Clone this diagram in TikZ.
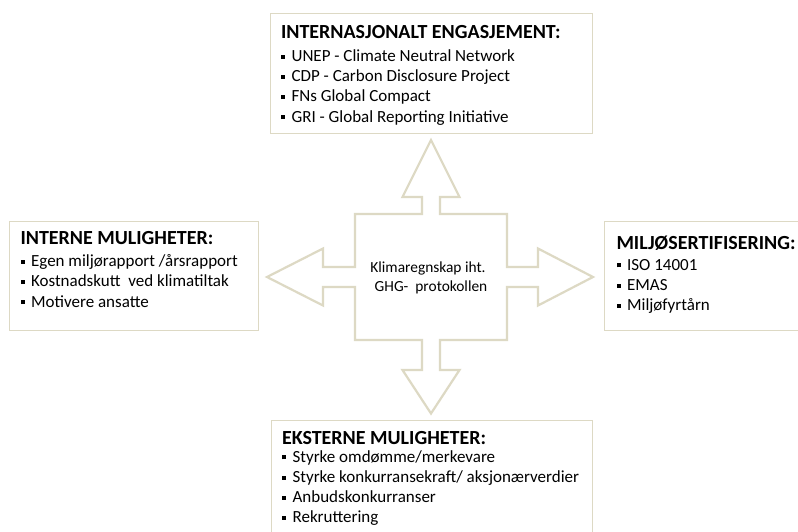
\documentclass[tikz,border=0pt]{standalone}
\usepackage{fontspec}
\setmainfont{Carlito}
\usepackage{tikz}
\definecolor{framegray}{RGB}{221,217,196}
\tikzset{
    every node/.style={inner sep=0pt, outer sep=0pt}
}
\tikzset{
    infobox/.style={draw=framegray, line width=1pt, anchor=north west},
    infotext/.style={anchor=base west, align=left,
    	font=\fontsize{17}{20.2}\selectfont}
}
\tikzset{
    hubtext/.style={anchor=base, align=center, font=\fontsize{15.4}{19.7}\selectfont},
    hubarrow/.style={draw=framegray, line width=2.2pt, line join=miter}
}
\newcommand{\itembullet}{\rule[2.8pt]{4pt}{4pt}\hspace{6.6pt}}
\newcommand{\boxhead}[1]{{\fontsize{20}{20.2}\selectfont\bfseries #1}}

\begin{document}
\begin{tikzpicture}[x=1pt, y=-1pt]
  \clip (0, 0) rectangle (798, 531);
  \fill[white] (0, 0) rectangle (798, 531);

  \node (intlbox) [infobox, minimum width=322pt, minimum height=120pt] at (270, 13) {};
  \node (intbox) [infobox, minimum width=249pt, minimum height=109pt] at (9, 221) {};
  \node (certbox) [infobox, minimum width=220pt, minimum height=109pt] at (604, 221) {};
  \node (extbox) [infobox, minimum width=321pt, minimum height=125pt] at (271, 420) {};

  \node (intl) [infotext] at (281, 122) {\boxhead{INTERNASJONALT ENGASJEMENT:}\\[3.2pt]
    \itembullet UNEP - Climate Neutral Network\\
    \itembullet CDP - Carbon Disclosure Project\\
    \itembullet FNs Global Compact\\
    \itembullet GRI - Global Reporting Initiative};
  \node (int) [infotext] at (20.5, 307) {\boxhead{INTERNE MULIGHETER:}\\[2.4pt]
    \itembullet Egen miljørapport /årsrapport\\
    \itembullet Kostnadskutt\ \ ved klimatiltak\\
    \itembullet Motivere ansatte};
  \node (cert) [infotext] at (616.5, 310.5) {\boxhead{MILJØSERTIFISERING:}\\[0.4pt]
    \itembullet ISO 14001\\
    \itembullet EMAS\\
    \itembullet Miljøfyrtårn};
  \node (ext) [infotext] at (282, 522.7) {\boxhead{EKSTERNE MULIGHETER:}\\[-2.1pt]
    \itembullet Styrke omdømme/merkevare\\
    \itembullet Styrke konkurransekraft/ aksjonærverdier\\
    \itembullet Anbudskonkurranser\\
    \itembullet Rekruttering};

  \draw[hubarrow] (355, 214) -- (422, 214) -- (422, 197) -- (402.5, 197)
    -- (431, 140) -- (459.5, 197) -- (440, 197) -- (440, 214)
    -- (507, 214) -- (507, 267) -- (538, 267) -- (538, 248.5)
    -- (593, 277) -- (538, 305.5) -- (538, 287) -- (507, 287)
    -- (507, 340) -- (440, 340) -- (440, 370) -- (459.5, 370)
    -- (431, 413.5) -- (402.5, 370) -- (422, 370) -- (422, 340)
    -- (355, 340) -- (355, 287) -- (323, 287) -- (323, 305.5)
    -- (267, 277) -- (323, 248.5) -- (323, 267) -- (355, 267) -- cycle;
  \node (hub) [hubtext] at (428, 291.7) {Klimaregnskap iht.\hspace{6pt}\\\hspace{6pt}GHG-\ \ protokollen};
\end{tikzpicture}
\end{document}
